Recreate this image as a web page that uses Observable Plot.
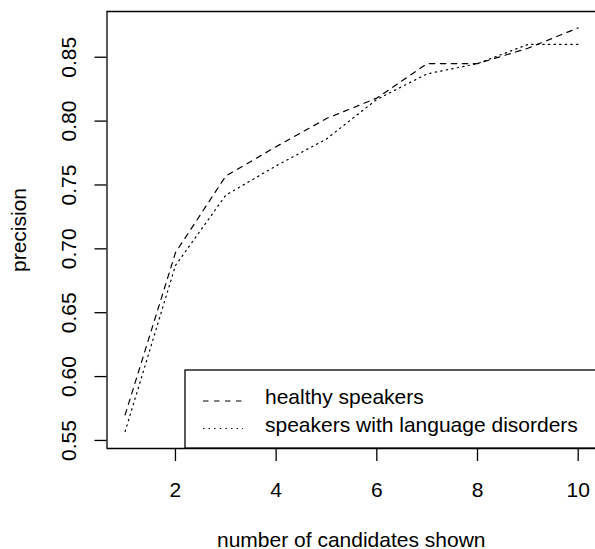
<!DOCTYPE html>
<html>
<head>
<meta charset="utf-8">
<script src="https://cdn.jsdelivr.net/npm/d3@7"></script>
<script src="https://cdn.jsdelivr.net/npm/@observablehq/plot@0.6"></script>
<style>
  html, body { margin: 0; padding: 0; background: white; overflow: hidden; }
  #chart { width: 595px; height: 549px; }
</style>
</head>
<body>
<div id="chart"></div>
<script>
// number of candidates shown
const candidates = [1, 2, 3, 4, 5, 6, 7, 8, 9, 10];
// precision, healthy speakers (dashed)
const healthy = [0.570, 0.697, 0.757, 0.780, 0.802, 0.818, 0.845, 0.845, 0.857, 0.873];
// precision, speakers with language disorders (dotted)
const disordered = [0.557, 0.687, 0.742, 0.765, 0.786, 0.817, 0.837, 0.845, 0.860, 0.860];
const seriesNames = ["healthy speakers", "speakers with language disorders"];
const xTicks = [2, 4, 6, 8, 10];
const yTicks = [0.55, 0.60, 0.65, 0.70, 0.75, 0.80, 0.85];
const xTitle = "number of candidates shown";
const yTitle = "precision";

const xDomain = [0.64, 10.36];
const yDomain = [0.5437, 0.8858];

const rowsH = candidates.map((c, i) => ({x: c, y: healthy[i]}));
const rowsD = candidates.map((c, i) => ({x: c, y: disordered[i]}));

const FONT = "'Liberation Sans', Arial, Helvetica, sans-serif";
const FS = 21;

const chart = Plot.plot({
  width: 595,
  height: 549,
  marginLeft: 106.5,
  marginRight: 0,
  marginTop: 11,
  marginBottom: 101,
  style: {fontFamily: FONT, fontSize: FS + "px", color: "black", background: "white", overflow: "visible"},
  x: {domain: xDomain, range: [106.5, 595.8]},
  y: {domain: yDomain},
  marks: [
    Plot.ruleY(yDomain, {stroke: "black", strokeWidth: 1.3}),
    Plot.ruleX([xDomain[0]], {stroke: "black", strokeWidth: 1.3}),
    Plot.line(rowsH, {x: "x", y: "y", stroke: "black", strokeWidth: 1.2, strokeDasharray: "5.5,5.5"}),
    Plot.line(rowsD, {x: "x", y: "y", stroke: "black", strokeWidth: 1.2, strokeDasharray: "1.4,4.2"}),
    Plot.axisX(xTicks, {tickSize: 13, tickPadding: 20.5, fontSize: FS, label: null, strokeWidth: 1.3, tickFormat: d => String(d)}),
    Plot.axisY(yTicks, {tickSize: 12, tickFormat: () => "", label: null, strokeWidth: 1.3}),
    Plot.text(yTicks, {y: d => d, text: d => d.toFixed(2), frameAnchor: "left", dx: -37.5, rotate: -90,
      textAnchor: "middle", lineAnchor: "middle", fontSize: FS, fill: "black"}),
    Plot.text([xTitle], {text: d => d, frameAnchor: "bottom", dy: 98, textAnchor: "middle",
      lineAnchor: "bottom", fontSize: FS, fill: "black"}),
    Plot.text([yTitle], {text: d => d, frameAnchor: "left", dx: -88, rotate: -90, textAnchor: "middle",
      lineAnchor: "middle", fontSize: FS, fill: "black"})
  ]
});

// legend (bottom-right, inside the plot region)
const svg = d3.select(chart);
const lg = svg.append("g").attr("font-family", FONT).attr("font-size", FS).attr("text-anchor", "start");
lg.append("rect").attr("x", 185).attr("y", 370).attr("width", 420).attr("height", 78)
  .attr("fill", "white").attr("stroke", "black").attr("stroke-width", 1.3);
const dashes = ["5.5,5.5", "1.4,4.2"];
const rowY = [404, 431.5];
seriesNames.forEach((name, i) => {
  lg.append("line").attr("x1", 203).attr("x2", 243).attr("y1", rowY[i] - 3).attr("y2", rowY[i] - 3)
    .attr("stroke", "black").attr("stroke-width", 1.2).attr("stroke-dasharray", dashes[i]).attr("fill", "none");
  lg.append("text").attr("x", 265).attr("y", rowY[i]).attr("fill", "black")
    .attr("text-anchor", "start").style("text-anchor", "start").text(name);
});

document.getElementById("chart").appendChild(chart);
</script>
</body>
</html>
